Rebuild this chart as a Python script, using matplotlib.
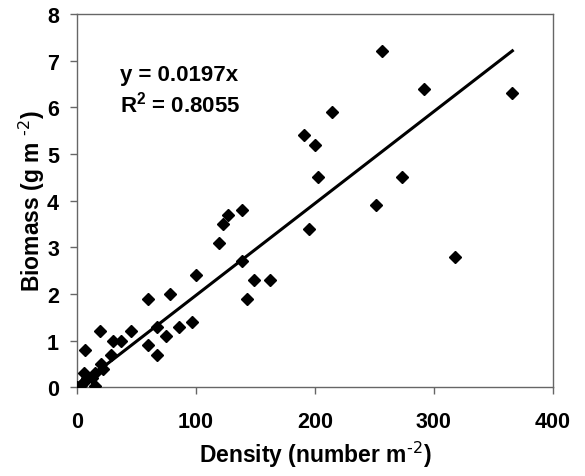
import matplotlib
matplotlib.use("Agg")
import matplotlib.pyplot as plt
import numpy as np

plt.rcParams['font.family'] = ['Liberation Sans', 'DejaVu Sans']
plt.rcParams['mathtext.default'] = 'regular'

density = [0, 3, 5, 6, 8, 13, 15, 15, 20, 22, 7, 19, 29, 30, 37, 45,
           60, 60, 67, 67, 75, 78, 86, 97, 100, 119, 123, 127, 139, 139,
           143, 149, 162, 191, 195, 200, 203, 214, 251, 256, 273, 292, 318, 366]
biomass = [0, 0.05, 0.1, 0.3, 0.2, 0.2, 0.3, 0.03, 0.5, 0.4, 0.8, 1.2, 0.7, 1.0, 1.0, 1.2,
           1.9, 0.9, 1.3, 0.7, 1.1, 2.0, 1.3, 1.4, 2.4, 3.1, 3.5, 3.7, 3.8, 2.7,
           1.9, 2.3, 2.3, 5.4, 3.4, 5.2, 4.5, 5.9, 3.9, 7.2, 4.5, 6.4, 2.8, 6.3]
slope = 0.0197
r2 = 0.8055
x_ticks = [0, 100, 200, 300, 400]
y_ticks = [0, 1, 2, 3, 4, 5, 6, 7, 8]

fig = plt.figure(figsize=(5.85, 4.77), dpi=100)
ax = fig.add_axes([0.1316, 0.186, 0.945 - 0.1316, 0.9686 - 0.186])

ax.plot(density, biomass, linestyle='none', marker='D', markersize=6.5,
        color='black', zorder=3)
xfit = np.array([0, max(density)])
ax.plot(xfit, slope * xfit, color='black', linewidth=2.2, zorder=2)

ax.set_xlim(0, 400)
ax.set_ylim(0, 8)
ax.set_xticks(x_ticks)
ax.set_yticks(y_ticks)
for s in ax.spines.values():
    s.set_color('#666666')
    s.set_linewidth(1.0)
ax.tick_params(direction='out', length=5, width=1, color='#666666',
               labelsize=15.5)
ax.tick_params(axis='x', pad=12)
ax.tick_params(axis='y', pad=8)
for lab in ax.get_xticklabels() + ax.get_yticklabels():
    lab.set_fontweight('bold')

ax.set_xlabel(r'Density (number m$^{\text{-2}}$)', fontsize=16.5, fontweight='bold', labelpad=5)
ax.set_ylabel(r'Biomass (g m $^{\text{-2}}$)', fontsize=16.5, fontweight='bold', labelpad=0)

ax.text(0.09, 0.839, f'y = {slope}x', transform=ax.transAxes, fontsize=16,
        fontweight='bold', va='center')
ax.text(0.09, 0.759, f'R$^2$ = {r2}', transform=ax.transAxes, fontsize=16,
        fontweight='bold', va='center')

fig.savefig('out.png', dpi=100)
